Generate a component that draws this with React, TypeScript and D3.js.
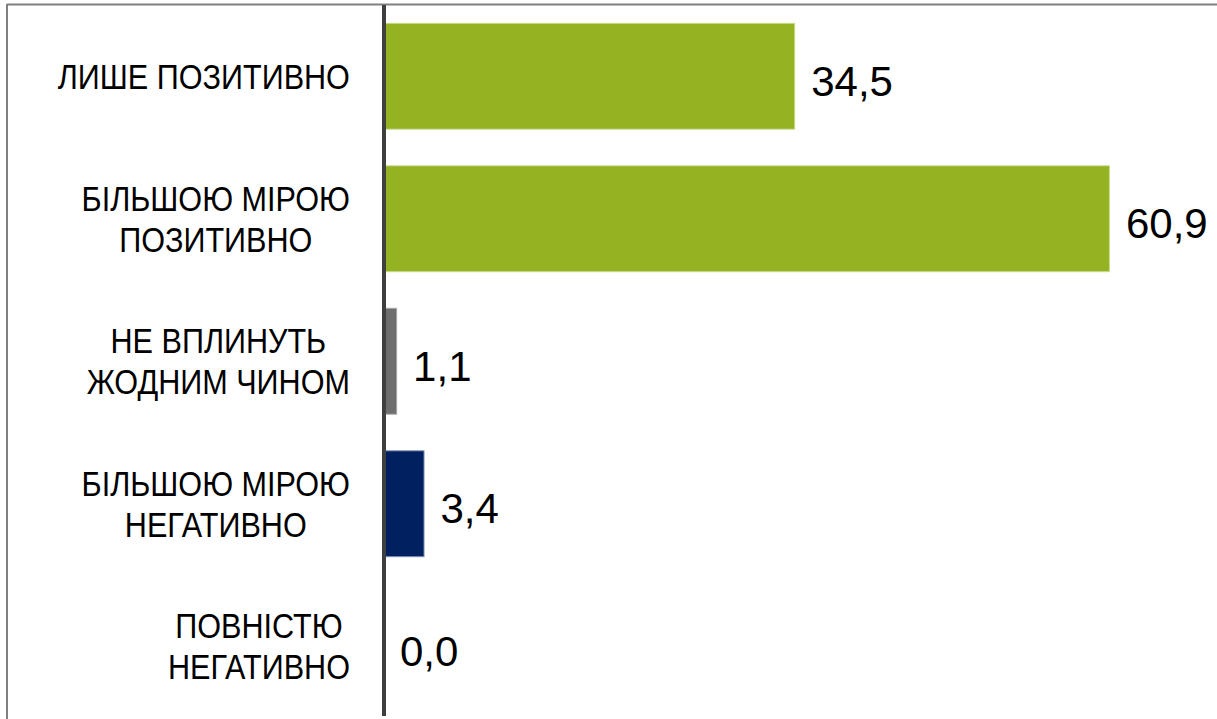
import React, { useEffect, useRef } from "react";
import * as d3 from "d3";

const categories: string[][] = [
  ["ЛИШЕ ПОЗИТИВНО"],
  ["БІЛЬШОЮ МІРОЮ", "ПОЗИТИВНО"],
  ["НЕ ВПЛИНУТЬ", "ЖОДНИМ ЧИНОМ"],
  ["БІЛЬШОЮ МІРОЮ", "НЕГАТИВНО"],
  ["ПОВНІСТЮ", "НЕГАТИВНО"],
];
const values: number[] = [34.5, 60.9, 1.1, 3.4, 0.0];
const valueLabels: string[] = ["34,5", "60,9", "1,1", "3,4", "0,0"];
const fills: string[] = ["#94B222", "#94B222", "#6E6E6E", "#002060", "#002060"];
const strokes: string[] = ["#C9DC90", "#C9DC90", "#A6A6A6", "#7F90B8", "#7F90B8"];

const W = 1217;
const H = 719;

export default function App() {
  const ref = useRef<SVGSVGElement | null>(null);

  useEffect(() => {
    const svg = d3.select(ref.current);
    svg.selectAll("*").remove();

    const x = d3.scaleLinear().domain([0, 70]).range([384, 384 + 70 * 11.92]);
    const y = d3
      .scaleBand<number>()
      .domain(d3.range(values.length))
      .range([5, 717.5])
      .paddingInner(0.25)
      .paddingOuter(0.125);

    // frame
    svg.append("line").attr("x1", 7).attr("x2", W).attr("y1", 4.5).attr("y2", 4.5)
      .attr("stroke", "#808080").attr("stroke-width", 2);
    svg.append("line").attr("x1", 7).attr("x2", 7).attr("y1", 4).attr("y2", H)
      .attr("stroke", "#808080").attr("stroke-width", 2);

    // bars
    svg.selectAll("rect.bar")
      .data(values)
      .join("rect")
      .attr("class", "bar")
      .attr("x", x(0) + 0.5)
      .attr("y", (_, i) => y(i)! + 0.5)
      .attr("width", (d) => Math.max(0, x(d) - x(0) - 1))
      .attr("height", y.bandwidth() - 1)
      .attr("fill", (_, i) => fills[i])
      .attr("stroke", (_, i) => strokes[i])
      .attr("stroke-width", 1)
      .style("display", (d) => (d > 0 ? null : "none"));

    // axis line
    svg.append("line").attr("x1", x(0)).attr("x2", x(0)).attr("y1", 5).attr("y2", 716)
      .attr("stroke", "#404040").attr("stroke-width", 4);

    // value labels
    svg.selectAll("text.val")
      .data(values)
      .join("text")
      .attr("class", "val")
      .attr("x", (d) => x(d) + 16)
      .attr("y", (_, i) => y(i)! + y.bandwidth() / 2 + 19.5)
      .attr("font-family", "'Liberation Sans', Arial, sans-serif")
      .attr("font-size", 42)
      .attr("fill", "#000")
      .text((_, i) => valueLabels[i]);

    // category labels (condensed)
    const lineH = 41;
    const sx = 0.85;
    categories.forEach((lines, i) => {
      const cy = y(i)! + y.bandwidth() / 2;
      const g = svg.append("g");
      const t = g.append("text")
        .attr("text-anchor", "middle")
        .attr("font-family", "'Liberation Sans', Arial, sans-serif")
        .attr("font-size", 36)
        .attr("fill", "#000");
      const n = lines.length;
      lines.forEach((ln, j) => {
        t.append("tspan")
          .attr("x", 0)
          .attr("y", cy + 12.5 + (j - (n - 1) / 2) * lineH)
          .text(ln);
      });
      const bb = (t.node() as SVGTextElement).getBBox();
      const right = 350;
      g.attr("transform", `translate(${right - sx * (bb.x + bb.width)},0) scale(${sx},1)`);
    });
  }, []);

  return (
    <svg
      ref={ref}
      width={W}
      height={H}
      style={{ position: "absolute", left: 0, top: 0, background: "#fff" }}
    />
  );
}
